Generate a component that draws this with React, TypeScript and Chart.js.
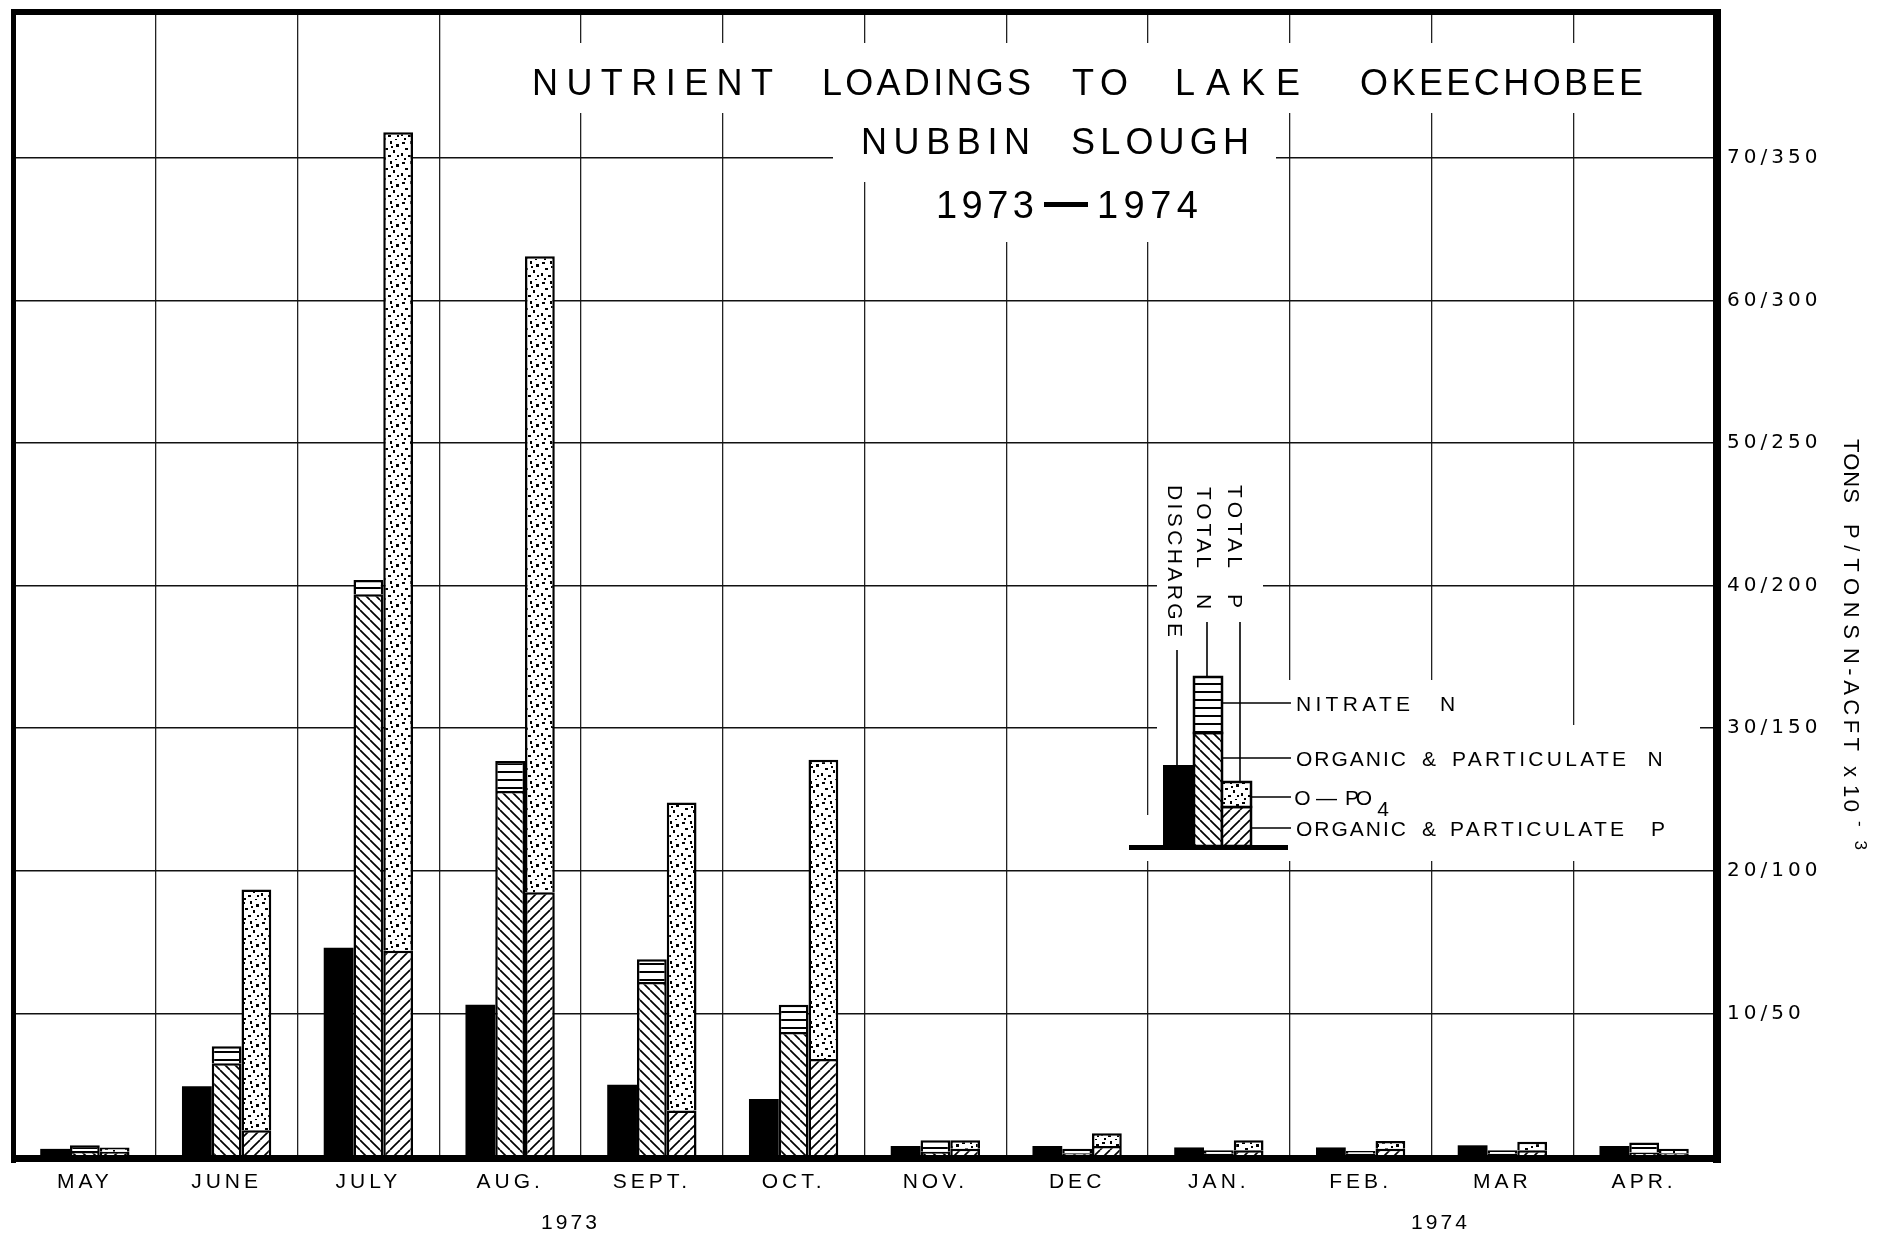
import React, { useEffect, useRef } from 'react';
import { Chart, registerables } from 'chart.js';

Chart.register(...registerables);

// ---------------- data ----------------
const MONTHS = ['MAY', 'JUNE', 'JULY', 'AUG.', 'SEPT.', 'OCT.', 'NOV.', 'DEC', 'JAN.', 'FEB.', 'MAR', 'APR.'];
const DISCHARGE = [0.5, 4.9, 14.6, 10.6, 5.0, 4.0, 0.7, 0.7, 0.6, 0.6, 0.75, 0.7];
const ORGANIC_N = [0.35, 6.5, 39.4, 25.6, 12.2, 8.7, 0.3, 0.2, 0.15, 0.15, 0.15, 0.25];
const NITRATE_N = [0.4, 1.2, 1.0, 2.1, 1.6, 1.9, 0.8, 0.3, 0.25, 0.2, 0.25, 0.7];
const ORGANIC_P = [0.3, 1.8, 14.4, 18.5, 3.2, 6.8, 0.5, 0.7, 0.4, 0.5, 0.4, 0.2];
const O_PO4 = [0.3, 16.9, 57.4, 44.6, 21.6, 21.0, 0.6, 0.9, 0.7, 0.55, 0.6, 0.3];
const Y_TICKS = [10, 20, 30, 40, 50, 60, 70];
const Y_MAX = 80.24;
const YEARS = ['1973', '1974'];
const TITLE_LINES = [
  ['NUTRIENT', 'LOADINGS', 'TO', 'LAKE', 'OKEECHOBEE'],
  ['NUBBIN', 'SLOUGH'],
  ['1973', '—', '1974'],
];
const AXIS_TITLE = ['TONS', 'P/TONS', 'N-ACFT', 'x', '10'];
const AXIS_TITLE_EXP = '-3';
const LEGEND_COLUMNS = [['DISCHARGE'], ['TOTAL', 'N'], ['TOTAL', 'P']];
const LEGEND_ROWS = [
  ['NITRATE', 'N'],
  ['ORGANIC', '&', 'PARTICULATE', 'N'],
  ['O', '—', 'PO'],
  ['ORGANIC', '&', 'PARTICULATE', 'P'],
];

const W = 1891;
const H = 1243;
const SANS = '"Liberation Sans", Arial, sans-serif';
const DEJAVU = '"DejaVu Sans", sans-serif';

// ---------------- helpers ----------------
function makePattern(kind: string): CanvasPattern {
  const c = document.createElement('canvas');
  const s = kind === 'dots' ? 20 : kind === 'horiz' ? 8 : 10;
  c.width = s;
  c.height = s;
  const g = c.getContext('2d')!;
  g.fillStyle = '#fff';
  g.fillRect(0, 0, s, s);
  g.strokeStyle = '#000';
  g.fillStyle = '#000';
  g.lineWidth = 1.7;
  if (kind === 'back') {
    for (let k = -1; k <= 1; k++) {
      g.beginPath();
      g.moveTo(k * s, 0);
      g.lineTo(k * s + s, s);
      g.stroke();
    }
  } else if (kind === 'fwd') {
    for (let k = -1; k <= 1; k++) {
      g.beginPath();
      g.moveTo(k * s, s);
      g.lineTo(k * s + s, 0);
      g.stroke();
    }
  } else if (kind === 'horiz') {
    g.fillRect(0, 3, s, 2);
  } else if (kind === 'dots') {
    const specks = [
      [2, 2, 3, 2], [10, 1, 2, 3], [16, 4, 3, 3], [5, 8, 3, 2], [13, 10, 2, 3],
      [1, 13, 2, 3], [8, 15, 3, 2], [17, 15, 2, 2], [11, 6, 2, 2], [4, 18, 2, 2], [15, 19, 2, 1],
    ];
    for (const [x, y, w, h] of specks) g.fillRect(x, y, w, h);
  }
  return g.createPattern(c, 'repeat')!;
}

function capText(ctx: CanvasRenderingContext2D, text: string, x0: number, x1: number, yc: number, size: number, weight = 'normal', family = SANS) {
  ctx.save();
  ctx.font = `${weight} ${size}px ${family}`;
  (ctx as any).letterSpacing = '0px';
  const w = ctx.measureText(text).width;
  const n = Array.from(text).length;
  ctx.fillStyle = '#000';
  ctx.textBaseline = 'alphabetic';
  ctx.textAlign = 'left';
  const cap = size * 0.72;
  if (n > 1) {
    const ls = (x1 - x0 - w) / (n - 1);
    (ctx as any).letterSpacing = `${ls}px`;
    ctx.fillText(text, x0, yc + cap / 2);
  } else {
    ctx.fillText(text, (x0 + x1) / 2 - w / 2, yc + cap / 2);
  }
  ctx.restore();
}

function vText(ctx: CanvasRenderingContext2D, text: string, xc: number, y0: number, y1: number, size: number) {
  ctx.save();
  ctx.translate(xc, 0);
  ctx.rotate(Math.PI / 2);
  capText(ctx, text, y0, y1, 0, size);
  ctx.restore();
}

function line(ctx: CanvasRenderingContext2D, x0: number, y0: number, x1: number, y1: number, w = 1.6) {
  ctx.save();
  ctx.strokeStyle = '#000';
  ctx.lineWidth = w;
  ctx.beginPath();
  ctx.moveTo(x0, y0);
  ctx.lineTo(x1, y1);
  ctx.stroke();
  ctx.restore();
}

function box(ctx: CanvasRenderingContext2D, x0: number, y0: number, x1: number, y1: number, fill: any) {
  ctx.save();
  ctx.fillStyle = fill;
  ctx.fillRect(x0, y0, x1 - x0, y1 - y0);
  ctx.strokeStyle = '#000';
  ctx.lineWidth = 2.5;
  ctx.strokeRect(x0, y0, x1 - x0, y1 - y0);
  ctx.restore();
}

export default function App() {
  const ref = useRef<HTMLCanvasElement>(null);

  useEffect(() => {
    const canvas = ref.current!;
    const P = {
      back: makePattern('back'),
      fwd: makePattern('fwd'),
      horiz: makePattern('horiz'),
      dots: makePattern('dots'),
    };

    const decor = {
      id: 'decor',
      beforeDraw(chart: any) {
        const ctx = chart.ctx as CanvasRenderingContext2D;
        ctx.save();
        ctx.fillStyle = '#fff';
        ctx.fillRect(0, 0, W, H);
        ctx.restore();
        (ctx as any).letterSpacing = '4px';
      },
      beforeDatasetsDraw(chart: any) {
        const ctx = chart.ctx as CanvasRenderingContext2D;
        ctx.save();
        ctx.fillStyle = '#fff';
        // gaps in the grid behind the title
        ctx.fillRect(520, 43, 1140, 70);
        ctx.fillRect(833, 113, 443, 69);
        ctx.fillRect(895, 182, 345, 60);
        // gaps behind the inset legend
        ctx.fillRect(1157, 470, 106, 212);
        ctx.fillRect(1157, 680, 348, 181);
        ctx.fillRect(1128, 815, 29, 46);
        ctx.fillRect(1505, 725, 195, 136);
        ctx.restore();
      },
      afterDatasetsDraw(chart: any) {
        const ctx = chart.ctx as CanvasRenderingContext2D;
        const a = chart.chartArea;
        (ctx as any).letterSpacing = '0px';
        // frame
        ctx.save();
        ctx.fillStyle = '#000';
        ctx.fillRect(a.left - 3, a.top - 3, a.right - a.left + 9, 6);
        ctx.fillRect(a.left - 3, a.top - 3, 5, a.bottom - a.top + 10);
        ctx.fillRect(a.right - 2, a.top - 3, 8, a.bottom - a.top + 10);
        ctx.fillRect(a.left - 3, a.bottom - 1, a.right - a.left + 9, 7);
        ctx.restore();

        // title
        const t1 = [[532, 773], [822, 1031], [1072, 1128], [1175, 1300], [1360, 1643]];
        TITLE_LINES[0].forEach((w, i) => capText(ctx, w, t1[i][0], t1[i][1], 82, 36));
        const t2 = [[861, 1030], [1071, 1249]];
        TITLE_LINES[1].forEach((w, i) => capText(ctx, w, t2[i][0], t2[i][1], 141, 36));
        const t3 = [[936, 1034], [1044, 1088], [1097, 1198]];
        TITLE_LINES[2].forEach((w, i) => {
          if (w === '—') {
            ctx.save();
            ctx.fillStyle = '#000';
            ctx.fillRect(t3[i][0], 202, t3[i][1] - t3[i][0], 5);
            ctx.restore();
          } else capText(ctx, w, t3[i][0], t3[i][1], 204, 38);
        });

        // years under the month labels
        capText(ctx, YEARS[0], 541, 597, 1221, 21);
        capText(ctx, YEARS[1], 1411, 1467, 1221, 21);

        // right axis title (rotated)
        const at = [[439, 503], [524, 639], [648, 751], [764, 779], [785, 812]];
        AXIS_TITLE.forEach((w, i) => vText(ctx, w, 1852, at[i][0], at[i][1], 22));
        vText(ctx, AXIS_TITLE_EXP, 1861, 821, 850, 17);

        // inset legend
        ctx.save();
        ctx.fillStyle = '#000';
        ctx.fillRect(1129, 845, 159, 5);
        ctx.fillRect(1163, 765, 31, 81);
        ctx.restore();
        box(ctx, 1194, 733, 1222, 846, P.back);
        box(ctx, 1194, 677, 1222, 733, P.horiz);
        box(ctx, 1222, 807, 1251, 846, P.fwd);
        box(ctx, 1222, 782, 1251, 807, P.dots);
        line(ctx, 1177, 650, 1177, 765);
        line(ctx, 1207, 622, 1207, 677);
        line(ctx, 1240, 622, 1240, 782);
        line(ctx, 1222, 703, 1291, 703);
        line(ctx, 1222, 758, 1291, 758);
        line(ctx, 1251, 797, 1291, 797);
        line(ctx, 1251, 828, 1291, 828);

        vText(ctx, LEGEND_COLUMNS[0][0], 1176, 485, 637, 21);
        vText(ctx, LEGEND_COLUMNS[1][0], 1205, 487, 568, 21);
        vText(ctx, LEGEND_COLUMNS[1][1], 1205, 596, 607, 21);
        vText(ctx, LEGEND_COLUMNS[2][0], 1236, 485, 568, 21);
        vText(ctx, LEGEND_COLUMNS[2][1], 1236, 596, 606, 21);

        const r0 = [[1296, 1410], [1441, 1454]];
        LEGEND_ROWS[0].forEach((w, i) => capText(ctx, w, r0[i][0], r0[i][1], 703, 21));
        const r1 = [[1296, 1406], [1421, 1437], [1452, 1626], [1647, 1663]];
        LEGEND_ROWS[1].forEach((w, i) => capText(ctx, w, r1[i][0], r1[i][1], 758, 21));
        const r2 = [[1296, 1309], [1318, 1335], [1345, 1372]];
        LEGEND_ROWS[2].forEach((w, i) => capText(ctx, w, r2[i][0], r2[i][1], 797, 21));
        capText(ctx, '4', 1376, 1390, 808, 21);
        const r3 = [[1296, 1406], [1421, 1437], [1450, 1624], [1651, 1665]];
        LEGEND_ROWS[3].forEach((w, i) => capText(ctx, w, r3[i][0], r3[i][1], 828, 21));
      },
    };

    const chart = new Chart(canvas, {
      type: 'bar',
      data: {
        labels: MONTHS,
        datasets: [
          { label: 'DISCHARGE', data: DISCHARGE, stack: 'discharge', backgroundColor: '#000', borderWidth: 0 },
          { label: 'ORGANIC & PARTICULATE N', data: ORGANIC_N, stack: 'n', backgroundColor: P.back, borderColor: '#000', borderWidth: 2.5 },
          { label: 'NITRATE N', data: NITRATE_N, stack: 'n', backgroundColor: P.horiz, borderColor: '#000', borderWidth: 2.5 },
          { label: 'ORGANIC & PARTICULATE P', data: ORGANIC_P, stack: 'p', backgroundColor: P.fwd, borderColor: '#000', borderWidth: 2.5 },
          { label: 'O-PO4', data: O_PO4, stack: 'p', backgroundColor: P.dots, borderColor: '#000', borderWidth: 2.5 },
        ] as any,
      },
      options: {
        responsive: false,
        animation: false,
        devicePixelRatio: 1,
        layout: { padding: { left: 14, top: 12, right: 0, bottom: 0 } },
        datasets: { bar: { categoryPercentage: 0.63, barPercentage: 1.0 } } as any,
        plugins: { legend: { display: false }, tooltip: { enabled: false }, title: { display: false } },
        scales: {
          x: {
            stacked: true,
            offset: true,
            grid: { offset: true, drawTicks: false, color: '#222', lineWidth: 1.3 },
            border: { display: false },
            ticks: {
              autoSkip: false,
              maxRotation: 0,
              padding: 14,
              color: '#000',
              font: { family: SANS, size: 21 },
            },
            afterFit: (s: any) => {
              s.height = 87;
              s.paddingLeft = 0;
              s.paddingRight = 0;
            },
          },
          y: {
            position: 'right',
            stacked: true,
            min: 0,
            max: Y_MAX,
            grid: { drawTicks: false, color: '#111', lineWidth: 1.6 },
            border: { display: false },
            ticks: {
              padding: 12,
              color: '#000',
              font: { family: DEJAVU, size: 20 },
              callback: (v: any) => `${v}/${v * 5}`,
            },
            afterBuildTicks: (s: any) => { s.ticks = Y_TICKS.map((v) => ({ value: v })); },
            afterFit: (s: any) => {
              s.width = W - 1715;
              s.paddingTop = 0;
              s.paddingBottom = 0;
            },
          },
        } as any,
      },
      plugins: [decor],
    } as any);

    return () => chart.destroy();
  }, []);

  return (
    <div style={{ position: 'absolute', left: 0, top: 0, width: W, height: H, background: '#fff' }}>
      <canvas ref={ref} width={W} height={H} style={{ display: 'block', width: W, height: H }} />
    </div>
  );
}
